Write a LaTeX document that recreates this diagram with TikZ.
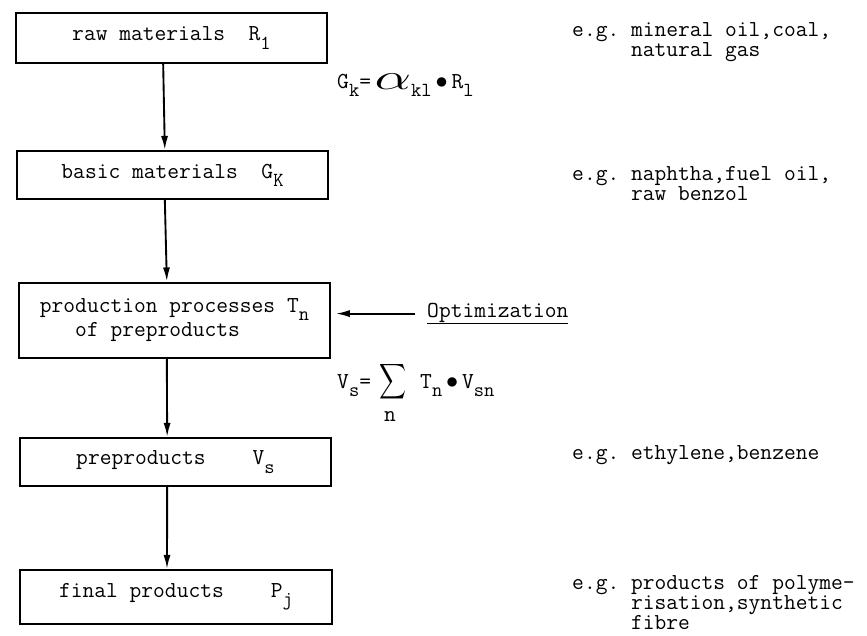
\documentclass[tikz,border=0pt]{standalone}
\usepackage{fontspec}
\usepackage{graphicx}
\usetikzlibrary{arrows.meta}

% lowered index, typewriter style
\newcommand{\lo}[1]{\raisebox{-7pt}{\fontsize{17}{17}\selectfont #1}}

\begin{document}
\frenchspacing
\begin{tikzpicture}[x=0.03cm,y=-0.03cm,
  stage/.style={draw,line width=1.7pt,minimum width=9.33cm,inner sep=0pt},
  flow/.style={-{Latex[length=12pt,width=6pt]},line width=1.6pt},
  note/.style={anchor=base west,align=left,inner sep=0pt}]
\tikzstyle{every node}=[font=\ttfamily\fontsize{19.5}{17}\selectfont]
\useasboundingbox (0,0) rectangle (867,635);

% the chain of stages
\node[stage,minimum height=1.5cm] (raw) at (171.5,38) {raw materials~~R\lo{1}};
\node[stage,minimum height=1.44cm] (basic) at (172.5,175) {basic materials~~G\lo{K}};
\node[stage,minimum height=2.25cm,align=left] (proc) at (174.5,320)
  {production processes T\lo{n}\\~~~of preproducts};
\node[stage,minimum height=1.44cm] (pre) at (175.5,462) {preproducts~~~~V\lo{s}};
\node[stage,minimum height=1.62cm] (final) at (176,597) {final products~~~~P\lo{j}};

\draw[flow] ([xshift=-0.25cm]raw.south) -- ([xshift=-0.23cm]basic.north);
\draw[flow] ([xshift=-0.23cm]basic.south) -- ([xshift=-0.23cm]proc.north);
\draw[flow] ([xshift=-0.23cm]proc.south) -- ([xshift=-0.25cm]pre.north);
\draw[flow] ([xshift=-0.25cm]pre.south) -- ([xshift=-0.27cm]final.north);

% optimization input
\node[note,inner xsep=0.36cm] (opt) at (415,317) {\underline{Optimization}};
\draw[flow,shorten >=4pt] (opt.west) -- (opt.west -| proc.east);

% relations between the stages
\node[note] (gk) at (337,88)
  {G\lo{k}=\hspace{3pt}\raisebox{-1pt}{\scalebox{2.4}[1.5]{$\alpha$}}\lo{kl}\,$\bullet$\,R\lo{l}};
\node[note] (vs) at (337,388) {V\lo{s}=};
\node[inner sep=0pt] (sig) at (393,382) {\scalebox{1.6}[2.1]{$\displaystyle\sum$}};
\node[note] (sn) at (384,421) {n};
\node[note] (tn) at (420,388) {T\lo{n}\,$\bullet$\,V\lo{sn}};

% examples
\node[note] (eg1) at (572,56) {e.g. mineral oil,coal,\\~~~~~natural gas};
\node[note] (eg2) at (572,200) {e.g. naphtha,fuel oil,\\~~~~~raw benzol};
\node[note] (eg3) at (572,459) {e.g. ethylene,benzene};
\node[note] (eg4) at (572,629) {e.g. products of polyme-\\~~~~~risation,synthetic\\~~~~~fibre};

\end{tikzpicture}
\end{document}
